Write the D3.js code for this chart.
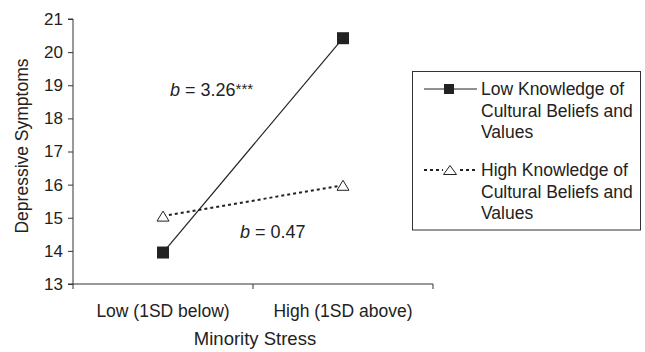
<!DOCTYPE html>
<html>
<head>
<meta charset="utf-8">
<script src="https://cdn.jsdelivr.net/npm/d3@7"></script>
<style>
  html, body { margin: 0; padding: 0; background: #fff; }
  svg { display: block; font-family: "Liberation Sans", Arial, sans-serif; }
</style>
</head>
<body>
<svg id="chart" width="645" height="352"></svg>
<script>
// Simple-slope data: depressive symptoms at low / high minority stress
const categories = ["Low (1SD below)", "High (1SD above)"];
const lowKnowledge = [13.95, 20.42];
const highKnowledge = [15.05, 15.98];
const yTicks = [13, 14, 15, 16, 17, 18, 19, 20, 21];
const seriesNames = [
  ["Low Knowledge of", "Cultural Beliefs and", "Values"],
  ["High Knowledge of", "Cultural Beliefs and", "Values"]
];
const slopeLabels = [
  { b: "3.26", sig: "***" },
  { b: "0.47", sig: "" }
];

const svg = d3.select("#chart");
const ink = "#222";
const axisInk = "#333";

const x = d3.scaleBand().domain(categories).range([73, 433]);
const y = d3.scaleLinear().domain([13, 21]).range([284, 19]);
const cx = d => x(d) + x.bandwidth() / 2;

// y axis
const yAxis = svg.append("g")
  .attr("transform", "translate(73,0)")
  .call(d3.axisLeft(y).tickValues(yTicks).tickSize(5).tickPadding(5).tickFormat(d3.format("d")));
yAxis.select(".domain").attr("stroke", axisInk).attr("d", `M-5,${y(21)}H0V${y(13)}`);
yAxis.selectAll(".tick line").attr("stroke", axisInk);
yAxis.selectAll(".tick text").attr("fill", ink).style("font-size", "17px")
  .attr("font-family", "Liberation Sans, Arial, sans-serif");

// x axis: ticks at band boundaries, labels centred in each band
const xAxisG = svg.append("g").attr("transform", `translate(0,${y(13)})`);
xAxisG.append("line").attr("x1", 68).attr("x2", 433).attr("y1", 0).attr("y2", 0)
  .attr("stroke", axisInk);
const bounds = categories.map(c => x(c)).concat([x(categories[categories.length - 1]) + x.bandwidth()]);
xAxisG.selectAll("line.tk").data(bounds).join("line").attr("class", "tk")
  .attr("x1", d => d).attr("x2", d => d).attr("y1", 0).attr("y2", 5)
  .attr("stroke", axisInk);
xAxisG.selectAll("text").data(categories).join("text")
  .attr("x", d => cx(d)).attr("y", 33)
  .attr("text-anchor", "middle").attr("fill", ink)
  .style("font-size", "17.5px").text(d => d);

// axis titles
svg.append("text")
  .attr("transform", `translate(28,146) rotate(-90)`)
  .attr("text-anchor", "middle").attr("fill", ink).style("font-size", "17.5px")
  .text("Depressive Symptoms");
svg.append("text")
  .attr("x", x.range()[0] + (x.range()[1] - x.range()[0]) / 2 + 2).attr("y", 345)
  .attr("text-anchor", "middle").attr("fill", ink).style("font-size", "18.5px")
  .text("Minority Stress");

// lines
const line = d3.line().x((d, i) => cx(categories[i])).y(d => y(d));
svg.append("path").datum(lowKnowledge).attr("d", line)
  .attr("fill", "none").attr("stroke", ink).attr("stroke-width", 1.2);
svg.append("path").datum(highKnowledge).attr("d", line)
  .attr("fill", "none").attr("stroke", ink).attr("stroke-width", 2)
  .attr("stroke-dasharray", "3,3");

// markers
const sq = 12;
svg.selectAll("rect.lowK").data(lowKnowledge).join("rect").attr("class", "lowK")
  .attr("x", (d, i) => cx(categories[i]) - sq / 2).attr("y", d => y(d) - sq / 2)
  .attr("width", sq).attr("height", sq).attr("fill", ink);

const tri = (w, h) => `M0,${-h / 2}L${w / 2},${h / 2}L${-w / 2},${h / 2}Z`;
svg.selectAll("path.highK").data(highKnowledge).join("path").attr("class", "highK")
  .attr("transform", (d, i) => `translate(${cx(categories[i])},${y(d)})`)
  .attr("d", tri(12, 10)).attr("fill", "#fff").attr("stroke", ink).attr("stroke-width", 1);

// slope annotations
function slopeText(sel, lab, xPos, yPos) {
  const t = sel.append("text").attr("x", xPos).attr("y", yPos).attr("fill", ink)
    .style("font-size", "18px");
  t.append("tspan").attr("font-style", "italic").text("b");
  t.append("tspan").text(" = " + lab.b);
  if (lab.sig) t.append("tspan").attr("dy", -2).style("font-size", "15px").text(lab.sig);
}
slopeText(svg, slopeLabels[0], 170, 96);
slopeText(svg, slopeLabels[1], 240, 238);

// legend
const legend = svg.append("g");
legend.append("rect").attr("x", 412.5).attr("y", 71.5).attr("width", 228).attr("height", 158.5)
  .attr("fill", "#fff").attr("stroke", axisInk).attr("stroke-width", 1);

const entries = [
  { y: 89, dash: null, width: 1.2 },
  { y: 170, dash: "3,3", width: 2 }
];
entries.forEach((e, k) => {
  const g = legend.append("g");
  g.append("line").attr("x1", 424).attr("x2", 477).attr("y1", e.y).attr("y2", e.y)
    .attr("stroke", ink).attr("stroke-width", e.width)
    .attr("stroke-dasharray", e.dash);
  if (k === 0) {
    g.append("rect").attr("x", 444).attr("y", e.y - 5).attr("width", 10).attr("height", 10).attr("fill", ink);
  } else {
    g.append("rect").attr("x", 443).attr("y", e.y - 6).attr("width", 14).attr("height", 11).attr("fill", "#fff");
    g.append("path").attr("transform", `translate(450,${e.y})`).attr("d", tri(13, 9))
      .attr("fill", "#fff").attr("stroke", ink).attr("stroke-width", 1);
  }
  g.selectAll("text").data(seriesNames[k]).join("text")
    .attr("x", 481).attr("y", (d, i) => e.y + 6 + i * 21.5)
    .attr("fill", ink).style("font-size", "17.5px").text(d => d);
});
</script>
</body>
</html>
